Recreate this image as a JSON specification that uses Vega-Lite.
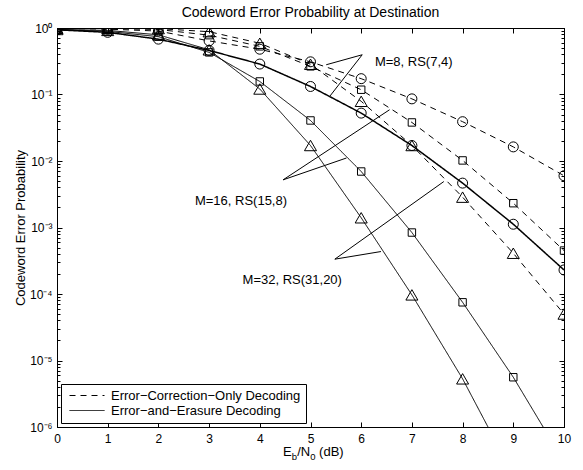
{
  "$schema": "https://vega.github.io/schema/vega-lite/v6.json",
  "width": 507,
  "height": 399,
  "autosize": {"type": "none"},
  "padding": {"left": 57, "top": 28, "right": 19, "bottom": 43},
  "background": "white",
  "title": {"text": "Codeword Error Probability at Destination", "fontSize": 14, "fontWeight": "normal", "font": "Liberation Sans", "color": "black", "offset": 2, "anchor": "middle"},
  "config": {
    "view": {"stroke": "black", "strokeWidth": 1},
    "font": "Liberation Sans",
    "axis": {"domainColor": "black", "tickColor": "black", "labelColor": "black", "titleColor": "black", "labelFont": "Liberation Sans", "titleFont": "Liberation Sans", "labelFontSize": 12, "titleFontSize": 13, "titleFontWeight": "normal", "grid": false, "tickWidth": 1, "domainWidth": 1},
    "legend": {"orient": "bottom-left", "offset": 4, "padding": 5, "strokeColor": "black", "fillColor": "white", "cornerRadius": 0, "labelFont": "Liberation Sans", "labelFontSize": 13, "labelColor": "black", "symbolType": "M-0.6,0H6.4", "symbolFillColor": "transparent", "symbolStrokeColor": "black", "symbolStrokeWidth": 1, "symbolSize": 100, "rowPadding": 1, "labelOffset": 32, "labelLimit": 400}
  },
  "datasets": {
    "curves": [
      {"snr": 0, "prob": 0.99, "code": "M=8", "decoding": "Error−Correction−Only Decoding"},
      {"snr": 1, "prob": 0.96, "code": "M=8", "decoding": "Error−Correction−Only Decoding"},
      {"snr": 2, "prob": 0.9, "code": "M=8", "decoding": "Error−Correction−Only Decoding"},
      {"snr": 3, "prob": 0.64, "code": "M=8", "decoding": "Error−Correction−Only Decoding"},
      {"snr": 4, "prob": 0.48, "code": "M=8", "decoding": "Error−Correction−Only Decoding"},
      {"snr": 5, "prob": 0.31, "code": "M=8", "decoding": "Error−Correction−Only Decoding"},
      {"snr": 6, "prob": 0.173, "code": "M=8", "decoding": "Error−Correction−Only Decoding"},
      {"snr": 7, "prob": 0.086, "code": "M=8", "decoding": "Error−Correction−Only Decoding"},
      {"snr": 8, "prob": 0.039, "code": "M=8", "decoding": "Error−Correction−Only Decoding"},
      {"snr": 9, "prob": 0.0163, "code": "M=8", "decoding": "Error−Correction−Only Decoding"},
      {"snr": 10, "prob": 0.006, "code": "M=8", "decoding": "Error−Correction−Only Decoding"},
      {"snr": 0, "prob": 0.99, "code": "M=16", "decoding": "Error−Correction−Only Decoding"},
      {"snr": 1, "prob": 0.98, "code": "M=16", "decoding": "Error−Correction−Only Decoding"},
      {"snr": 2, "prob": 0.95, "code": "M=16", "decoding": "Error−Correction−Only Decoding"},
      {"snr": 3, "prob": 0.78, "code": "M=16", "decoding": "Error−Correction−Only Decoding"},
      {"snr": 4, "prob": 0.53, "code": "M=16", "decoding": "Error−Correction−Only Decoding"},
      {"snr": 5, "prob": 0.265, "code": "M=16", "decoding": "Error−Correction−Only Decoding"},
      {"snr": 6, "prob": 0.118, "code": "M=16", "decoding": "Error−Correction−Only Decoding"},
      {"snr": 7, "prob": 0.038, "code": "M=16", "decoding": "Error−Correction−Only Decoding"},
      {"snr": 8, "prob": 0.0102, "code": "M=16", "decoding": "Error−Correction−Only Decoding"},
      {"snr": 9, "prob": 0.00232, "code": "M=16", "decoding": "Error−Correction−Only Decoding"},
      {"snr": 10, "prob": 0.00045, "code": "M=16", "decoding": "Error−Correction−Only Decoding"},
      {"snr": 0, "prob": 0.99, "code": "M=32", "decoding": "Error−Correction−Only Decoding"},
      {"snr": 1, "prob": 0.99, "code": "M=32", "decoding": "Error−Correction−Only Decoding"},
      {"snr": 2, "prob": 0.98, "code": "M=32", "decoding": "Error−Correction−Only Decoding"},
      {"snr": 3, "prob": 0.88, "code": "M=32", "decoding": "Error−Correction−Only Decoding"},
      {"snr": 4, "prob": 0.59, "code": "M=32", "decoding": "Error−Correction−Only Decoding"},
      {"snr": 5, "prob": 0.285, "code": "M=32", "decoding": "Error−Correction−Only Decoding"},
      {"snr": 6, "prob": 0.079, "code": "M=32", "decoding": "Error−Correction−Only Decoding"},
      {"snr": 7, "prob": 0.0171, "code": "M=32", "decoding": "Error−Correction−Only Decoding"},
      {"snr": 8, "prob": 0.00286, "code": "M=32", "decoding": "Error−Correction−Only Decoding"},
      {"snr": 9, "prob": 0.00041, "code": "M=32", "decoding": "Error−Correction−Only Decoding"},
      {"snr": 10, "prob": 0.00005, "code": "M=32", "decoding": "Error−Correction−Only Decoding"},
      {"snr": 0, "prob": 0.94, "code": "M=8", "decoding": "Error−and−Erasure Decoding"},
      {"snr": 1, "prob": 0.86, "code": "M=8", "decoding": "Error−and−Erasure Decoding"},
      {"snr": 2, "prob": 0.68, "code": "M=8", "decoding": "Error−and−Erasure Decoding"},
      {"snr": 3, "prob": 0.46, "code": "M=8", "decoding": "Error−and−Erasure Decoding"},
      {"snr": 4, "prob": 0.287, "code": "M=8", "decoding": "Error−and−Erasure Decoding"},
      {"snr": 5, "prob": 0.132, "code": "M=8", "decoding": "Error−and−Erasure Decoding"},
      {"snr": 6, "prob": 0.0525, "code": "M=8", "decoding": "Error−and−Erasure Decoding"},
      {"snr": 7, "prob": 0.0171, "code": "M=8", "decoding": "Error−and−Erasure Decoding"},
      {"snr": 8, "prob": 0.00465, "code": "M=8", "decoding": "Error−and−Erasure Decoding"},
      {"snr": 9, "prob": 0.00112, "code": "M=8", "decoding": "Error−and−Erasure Decoding"},
      {"snr": 10, "prob": 0.00023, "code": "M=8", "decoding": "Error−and−Erasure Decoding"},
      {"snr": 0, "prob": 0.94, "code": "M=16", "decoding": "Error−and−Erasure Decoding"},
      {"snr": 1, "prob": 0.89, "code": "M=16", "decoding": "Error−and−Erasure Decoding"},
      {"snr": 2, "prob": 0.74, "code": "M=16", "decoding": "Error−and−Erasure Decoding"},
      {"snr": 3, "prob": 0.43, "code": "M=16", "decoding": "Error−and−Erasure Decoding"},
      {"snr": 4, "prob": 0.157, "code": "M=16", "decoding": "Error−and−Erasure Decoding"},
      {"snr": 5, "prob": 0.0407, "code": "M=16", "decoding": "Error−and−Erasure Decoding"},
      {"snr": 6, "prob": 0.00695, "code": "M=16", "decoding": "Error−and−Erasure Decoding"},
      {"snr": 7, "prob": 0.00084, "code": "M=16", "decoding": "Error−and−Erasure Decoding"},
      {"snr": 8, "prob": 0.000075, "code": "M=16", "decoding": "Error−and−Erasure Decoding"},
      {"snr": 9, "prob": 0.0000056, "code": "M=16", "decoding": "Error−and−Erasure Decoding"},
      {"snr": 10, "prob": 0.0000003, "code": "M=16", "decoding": "Error−and−Erasure Decoding"},
      {"snr": 0, "prob": 0.95, "code": "M=32", "decoding": "Error−and−Erasure Decoding"},
      {"snr": 1, "prob": 0.92, "code": "M=32", "decoding": "Error−and−Erasure Decoding"},
      {"snr": 2, "prob": 0.79, "code": "M=32", "decoding": "Error−and−Erasure Decoding"},
      {"snr": 3, "prob": 0.47, "code": "M=32", "decoding": "Error−and−Erasure Decoding"},
      {"snr": 4, "prob": 0.121, "code": "M=32", "decoding": "Error−and−Erasure Decoding"},
      {"snr": 5, "prob": 0.0171, "code": "M=32", "decoding": "Error−and−Erasure Decoding"},
      {"snr": 6, "prob": 0.0014, "code": "M=32", "decoding": "Error−and−Erasure Decoding"},
      {"snr": 7, "prob": 0.000097, "code": "M=32", "decoding": "Error−and−Erasure Decoding"},
      {"snr": 8, "prob": 0.0000053, "code": "M=32", "decoding": "Error−and−Erasure Decoding"},
      {"snr": 9, "prob": 0.00000019, "code": "M=32", "decoding": "Error−and−Erasure Decoding"},
      {"snr": 10, "prob": 0.000000005, "code": "M=32", "decoding": "Error−and−Erasure Decoding"}
    ],
    "pointers": [
      {"xa": 6.02, "ya": 0.396, "xb": 5.31, "yb": 0.28},
      {"xa": 6.02, "ya": 0.396, "xb": 5.38, "yb": 0.094},
      {"xa": 4.46, "ya": 0.00521, "xb": 6.56, "yb": 0.059},
      {"xa": 4.46, "ya": 0.00521, "xb": 5.71, "yb": 0.0111},
      {"xa": 5.48, "ya": 0.000334, "xb": 6.39, "yb": 0.000435},
      {"xa": 5.48, "ya": 0.000334, "xb": 7.63, "yb": 0.00491}
    ],
    "notes": [
      {"xn": 6.27, "yn": 0.311, "label": "M=8, RS(7,4)"},
      {"xn": 2.72, "yn": 0.00252, "label": "M=16, RS(15,8)"},
      {"xn": 3.66, "yn": 0.000163, "label": "M=32, RS(31,20)"}
    ]
  },
  "resolve": {"axis": {"x": "independent", "y": "independent"}},
  "layer": [
    {
      "data": {"name": "curves"},
      "mark": {"type": "line", "clip": true, "color": "black"},
      "encoding": {
        "x": {"field": "snr", "type": "quantitative", "scale": {"domain": [0, 10], "nice": false, "zero": false},
              "axis": {"orient": "bottom", "values": [0, 1, 2, 3, 4, 5, 6, 7, 8, 9, 10], "tickSize": -5, "labelPadding": 11, "title": null, "format": "d", "labelFlush": false}},
        "y": {"field": "prob", "type": "quantitative", "scale": {"type": "log", "domain": [0.000001, 1], "nice": false},
              "axis": {"orient": "left", "values": [1, 0.1, 0.01, 0.001, 0.0001, 0.00001, 0.000001], "tickSize": -5, "labelPadding": 10, "labelOverlap": false, "labelFlush": false,
                       "labelExpr": "'10' + ['⁰','⁻¹','⁻²','⁻³','⁻⁴','⁻⁵','⁻⁶'][round(-log(datum.value)/LN10)]",
                       "title": "Codeword Error Probability", "titleX": -30}},
        "detail": {"field": "code", "type": "nominal"},
        "strokeDash": {"field": "decoding", "type": "nominal", "scale": {"domain": ["Error−Correction−Only Decoding", "Error−and−Erasure Decoding"], "range": [[6, 5], [1, 0]]}, "legend": {"title": null}},
        "strokeWidth": {"condition": {"test": "datum.code === 'M=8' && datum.decoding === 'Error−and−Erasure Decoding'", "value": 1.5}, "value": 1}
      }
    },
    {
      "data": {"name": "curves"},
      "mark": {"type": "point", "filled": false, "clip": true, "color": "black", "strokeWidth": 1, "opacity": 1},
      "encoding": {
        "x": {"field": "snr", "type": "quantitative", "axis": {"orient": "top", "values": [0, 1, 2, 3, 4, 5, 6, 7, 8, 9, 10], "tickSize": -5, "labels": false, "title": null}},
        "y": {"field": "prob", "type": "quantitative", "axis": {"orient": "left", "values": [0.2, 0.3, 0.4, 0.5, 0.6, 0.7, 0.8, 0.9, 0.02, 0.03, 0.04, 0.05, 0.06, 0.07, 0.08, 0.09, 0.002, 0.003, 0.004, 0.005, 0.006, 0.007, 0.008, 0.009, 0.0002, 0.0003, 0.0004, 0.0005, 0.0006, 0.0007, 0.0008, 0.0009, 0.00002, 0.00003, 0.00004, 0.00005, 0.00006, 0.00007, 0.00008, 0.00009, 0.000002, 0.000003, 0.000004, 0.000005, 0.000006, 0.000007, 0.000008, 0.000009], "tickSize": -3, "labels": false, "domain": false, "title": null}},
        "shape": {"field": "code", "type": "nominal", "scale": {"domain": ["M=8", "M=16", "M=32"], "range": ["circle", "square", "triangle-up"]}, "legend": null},
        "size": {"field": "code", "type": "ordinal", "scale": {"type": "point", "domain": ["M=16", "M=8", "M=32"], "range": [55, 145], "padding": 0}, "legend": null}
      }
    },
    {
      "data": {"name": "pointers"},
      "mark": {"type": "rule", "color": "black", "strokeWidth": 1},
      "encoding": {
        "x": {"field": "xa", "type": "quantitative", "axis": null},
        "y": {"field": "ya", "type": "quantitative", "axis": {"orient": "right", "values": [1, 0.1, 0.01, 0.001, 0.0001, 0.00001, 0.000001], "tickSize": -5, "labels": false, "title": null}},
        "x2": {"field": "xb"},
        "y2": {"field": "yb"}
      }
    },
    {
      "data": {"name": "notes"},
      "mark": {"type": "text", "align": "left", "baseline": "middle", "fontSize": 13, "font": "Liberation Sans", "color": "black"},
      "encoding": {
        "x": {"field": "xn", "type": "quantitative", "axis": null},
        "y": {"field": "yn", "type": "quantitative", "axis": {"orient": "right", "values": [0.2, 0.3, 0.4, 0.5, 0.6, 0.7, 0.8, 0.9, 0.02, 0.03, 0.04, 0.05, 0.06, 0.07, 0.08, 0.09, 0.002, 0.003, 0.004, 0.005, 0.006, 0.007, 0.008, 0.009, 0.0002, 0.0003, 0.0004, 0.0005, 0.0006, 0.0007, 0.0008, 0.0009, 0.00002, 0.00003, 0.00004, 0.00005, 0.00006, 0.00007, 0.00008, 0.00009, 0.000002, 0.000003, 0.000004, 0.000005, 0.000006, 0.000007, 0.000008, 0.000009], "tickSize": -3, "labels": false, "domain": false, "title": null}},
        "text": {"field": "label"}
      }
    },
    {
      "data": {"values": [{"t": "E"}]},
      "mark": {"type": "text", "align": "left", "baseline": "alphabetic", "fontSize": 13, "font": "Liberation Sans", "color": "black", "dx": -27.5, "dy": 29},
      "encoding": {"x": {"datum": 5, "type": "quantitative", "axis": null}, "y": {"datum": 0.000001, "type": "quantitative", "axis": null}, "text": {"field": "t"}}
    },
    {
      "data": {"values": [{"t": "b"}]},
      "mark": {"type": "text", "align": "left", "baseline": "alphabetic", "fontSize": 9.5, "font": "Liberation Sans", "color": "black", "dx": -18.8, "dy": 33},
      "encoding": {"x": {"datum": 5, "type": "quantitative", "axis": null}, "y": {"datum": 0.000001, "type": "quantitative", "axis": null}, "text": {"field": "t"}}
    },
    {
      "data": {"values": [{"t": "/N"}]},
      "mark": {"type": "text", "align": "left", "baseline": "alphabetic", "fontSize": 13, "font": "Liberation Sans", "color": "black", "dx": -13.3, "dy": 29},
      "encoding": {"x": {"datum": 5, "type": "quantitative", "axis": null}, "y": {"datum": 0.000001, "type": "quantitative", "axis": null}, "text": {"field": "t"}}
    },
    {
      "data": {"values": [{"t": "0"}]},
      "mark": {"type": "text", "align": "left", "baseline": "alphabetic", "fontSize": 9.5, "font": "Liberation Sans", "color": "black", "dx": -0.3, "dy": 33},
      "encoding": {"x": {"datum": 5, "type": "quantitative", "axis": null}, "y": {"datum": 0.000001, "type": "quantitative", "axis": null}, "text": {"field": "t"}}
    },
    {
      "data": {"values": [{"t": "(dB)"}]},
      "mark": {"type": "text", "align": "left", "baseline": "alphabetic", "fontSize": 13, "font": "Liberation Sans", "color": "black", "dx": 8.6, "dy": 29},
      "encoding": {"x": {"datum": 5, "type": "quantitative", "axis": null}, "y": {"datum": 0.000001, "type": "quantitative", "axis": null}, "text": {"field": "t"}}
    }
  ]
}
